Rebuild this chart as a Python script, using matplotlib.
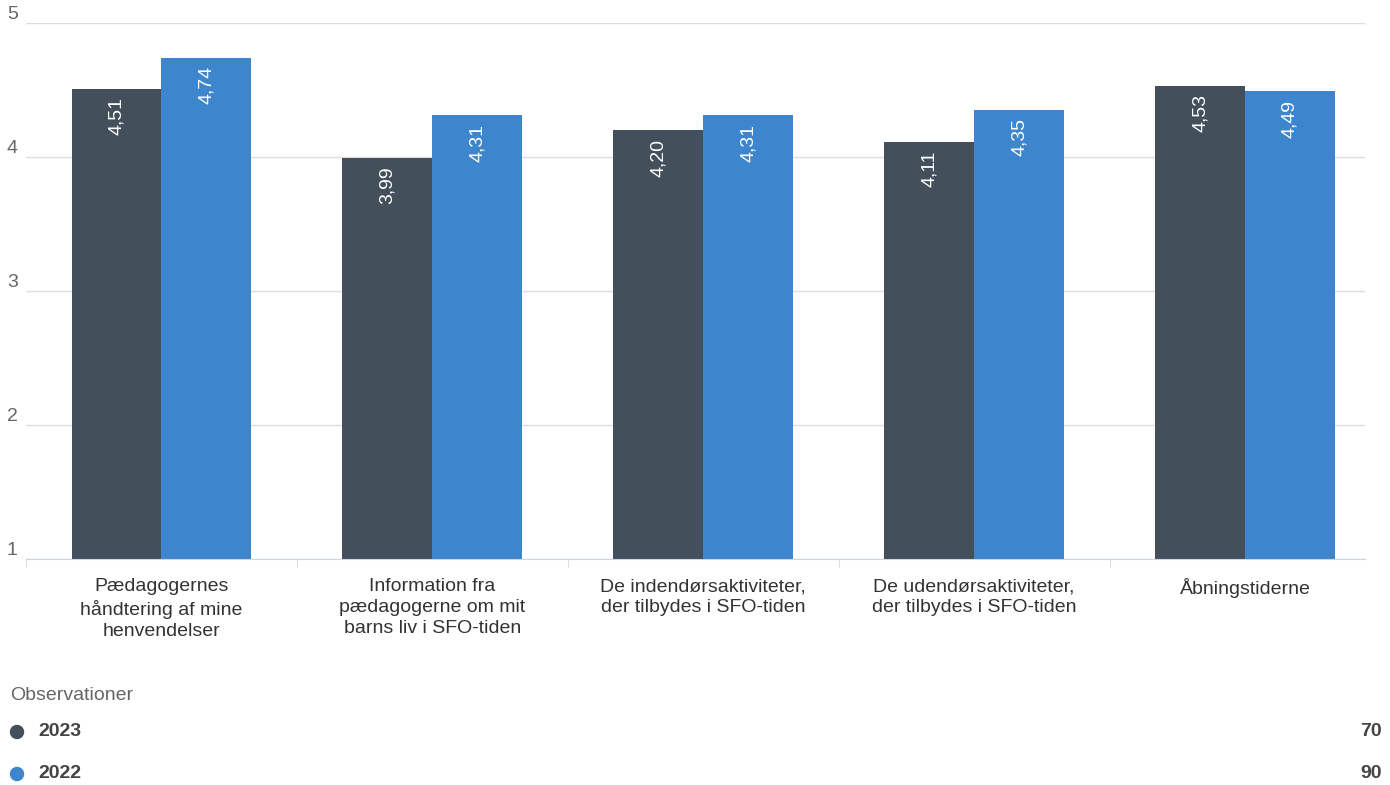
import numpy as np
import matplotlib.pyplot as plt
from matplotlib.patches import Ellipse

plt.rcParams['font.family'] = ['Liberation Sans', 'DejaVu Sans']

# data
categories = ["Pædagogernes\nhåndtering af mine\nhenvendelser",
              "Information fra\npædagogerne om mit\nbarns liv i SFO-tiden",
              "De indendørsaktiviteter,\nder tilbydes i SFO-tiden",
              "De udendørsaktiviteter,\nder tilbydes i SFO-tiden",
              "Åbningstiderne"]
v2023 = [4.51, 3.99, 4.20, 4.11, 4.53]
v2022 = [4.74, 4.31, 4.31, 4.35, 4.49]
series_names = ["2023", "2022"]
observations = [70, 90]

c_dark = '#434f5a'
c_blue = '#3d85cc'
grey = '#666666'
fs = 14

fig = plt.figure(figsize=(13.9, 7.85), dpi=100)
ax = fig.add_axes([26/1390, 1-559/785, (1365-26)/1390, (559-23)/785])

x = np.arange(len(categories))
w = 0.332
b1 = ax.bar(x - w/2, np.array(v2023) - 1, w, bottom=1, color=c_dark)
b2 = ax.bar(x + w/2, np.array(v2022) - 1, w, bottom=1, color=c_blue)

for bars, vals in ((b1, v2023), (b2, v2022)):
    for r, v in zip(bars, vals):
        ax.annotate(("%.2f" % v).replace('.', ','), (r.get_x() + r.get_width()/2, v),
                    xytext=(0, -6), textcoords='offset points', rotation=90,
                    ha='center', va='top', color='white', fontsize=fs)

# plot area is a bit narrower on the right than the category band
ax.set_xlim(-0.498, 4.443)
ax.set_ylim(1, 5)
ax.set_yticks([1, 2, 3, 4, 5])
ax.yaxis.grid(True, color='#dddddd', linewidth=1)
ax.set_axisbelow(True)
for s in ['top', 'right', 'left']:
    ax.spines[s].set_visible(False)
ax.spines['bottom'].set_color('#ccd6eb')
ax.tick_params(axis='y', length=0, labelsize=fs, labelcolor=grey, pad=6)
ax.set_yticklabels([str(t) for t in [1, 2, 3, 4, 5]], va='bottom')
ax.set_xticks(x)
ax.set_xticklabels(categories, fontsize=fs, color='#333333', linespacing=1.3)
ax.tick_params(axis='x', length=0, pad=14)
ax.set_xticks(np.arange(len(categories)) - 0.5, minor=True)
ax.tick_params(axis='x', which='minor', length=6, color='#ccd6eb')

# legend / observations
fig.text(10/1390, 1-696/785, "Observationer", fontsize=fs, color=grey, va='center')
for i, (name, col, n) in enumerate(zip(series_names, [c_dark, c_blue], observations)):
    yy = 1 - (732 + 42*i)/785
    fig.add_artist(Ellipse((17/1390, yy), 13/1390, 13/785, transform=fig.transFigure,
                           color=col))
    fig.text(38/1390, yy, name, fontsize=fs, color='#444444', weight='bold', va='center')
    fig.text(1382/1390, yy, str(n), fontsize=fs, color='#444444', weight='bold',
             va='center', ha='right')

fig.savefig('out.png', dpi=100)
